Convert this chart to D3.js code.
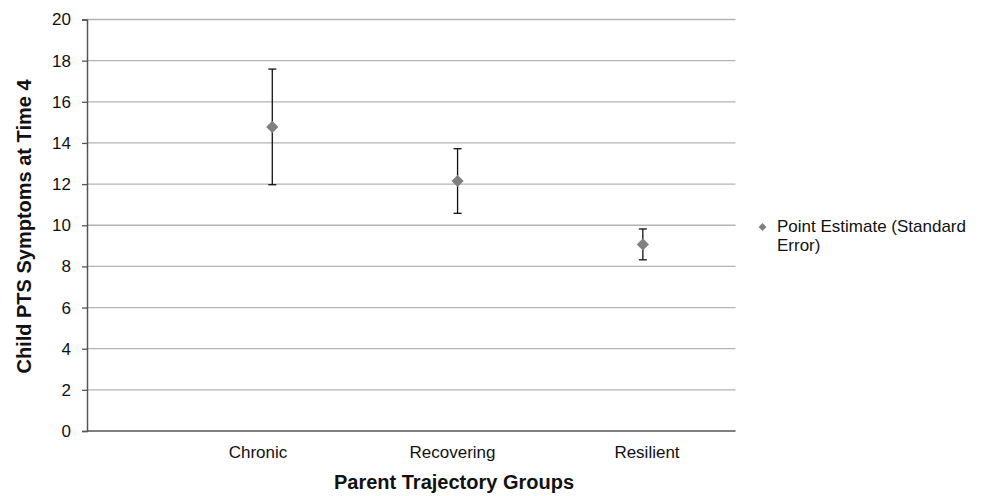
<!DOCTYPE html>
<html><head><meta charset="utf-8">
<script src="https://cdn.jsdelivr.net/npm/d3@7"></script>
<style>body{margin:0;background:#fff;} svg{display:block;font-family:"Liberation Sans",Arial,sans-serif;}</style>
</head><body>
<svg id="c" width="986" height="496"></svg>
<script>
const categories = ["Chronic", "Recovering", "Resilient"];
const estimates = [14.78, 12.15, 9.07];
const stdErrors = [2.81, 1.57, 0.75];
const yTicks = [0, 2, 4, 6, 8, 10, 12, 14, 16, 18, 20];
const legendLabel = ["Point Estimate (Standard", "Error)"];

const svg = d3.select("#c");
const mLeft = 87, mRight = 735.5, mTop = 19.5, mBottom = 431;
const x = d3.scaleLinear().domain([0, categories.length + 0.5]).range([mLeft, mRight]);
const xLabel = d3.scaleLinear().domain([1, categories.length]).range([258, 647]);
const y = d3.scaleLinear().domain([0, 20]).range([mBottom, mTop]);

// gridlines
svg.append("g").selectAll("line").data(yTicks.filter(d => d > 0)).join("line")
  .attr("x1", mLeft).attr("x2", mRight)
  .attr("y1", d => y(d)).attr("y2", d => y(d))
  .attr("stroke", "#b4b4b4").attr("stroke-width", 1.3);

// y axis
const ya = svg.append("g").attr("transform", `translate(${mLeft},0)`)
  .call(d3.axisLeft(y).tickValues(yTicks).tickSize(5).tickPadding(11));
ya.select(".domain").attr("stroke", "#555").attr("stroke-width", 1.5);
ya.selectAll(".tick line").attr("stroke", "#555").attr("stroke-width", 1.3);
ya.selectAll("text").attr("font-size", 17).attr("fill", "#111")
  .attr("font-family", "Liberation Sans, Arial, sans-serif");

// x axis line
svg.append("line").attr("x1", mLeft).attr("x2", mRight).attr("y1", mBottom).attr("y2", mBottom)
  .attr("stroke", "#555").attr("stroke-width", 1.5);

// category labels
svg.append("g").selectAll("text").data(categories).join("text")
  .attr("x", (d, i) => xLabel(i + 1)).attr("y", 458)
  .attr("text-anchor", "middle").attr("font-size", 17).attr("fill", "#111")
  .text(d => d);

// error bars
const eb = svg.append("g").attr("stroke", "#111").attr("stroke-width", 1.3);
estimates.forEach((v, i) => {
  const cx = x(i + 1);
  eb.append("line").attr("x1", cx).attr("x2", cx).attr("y1", y(v + stdErrors[i])).attr("y2", y(v - stdErrors[i]));
  [v + stdErrors[i], v - stdErrors[i]].forEach(e => {
    eb.append("line").attr("x1", cx - 4).attr("x2", cx + 4).attr("y1", y(e)).attr("y2", y(e));
  });
});

// points
const diamond = d3.symbol().type(d3.symbolDiamond2).size(95);
svg.append("g").selectAll("path").data(estimates).join("path")
  .attr("d", diamond)
  .attr("transform", (d, i) => `translate(${x(i + 1)},${y(d)})`)
  .attr("fill", "#808080");

// axis titles
svg.append("text").attr("x", 454).attr("y", 489)
  .attr("text-anchor", "middle").attr("font-size", 20).attr("font-weight", "bold").attr("fill", "#111")
  .text("Parent Trajectory Groups");
svg.append("text").attr("transform", `translate(31,226.5) rotate(-90)`)
  .attr("text-anchor", "middle").attr("font-size", 20).attr("font-weight", "bold").attr("fill", "#111")
  .text("Child PTS Symptoms at Time 4");

// legend
svg.append("path").attr("d", d3.symbol().type(d3.symbolDiamond2).size(40))
  .attr("transform", "translate(762.5,227)").attr("fill", "#808080");
svg.append("g").selectAll("text").data(legendLabel).join("text")
  .attr("x", 777).attr("y", (d, i) => 232 + i * 19)
  .attr("font-size", 17).attr("fill", "#111").text(d => d);
</script>
</body></html>
